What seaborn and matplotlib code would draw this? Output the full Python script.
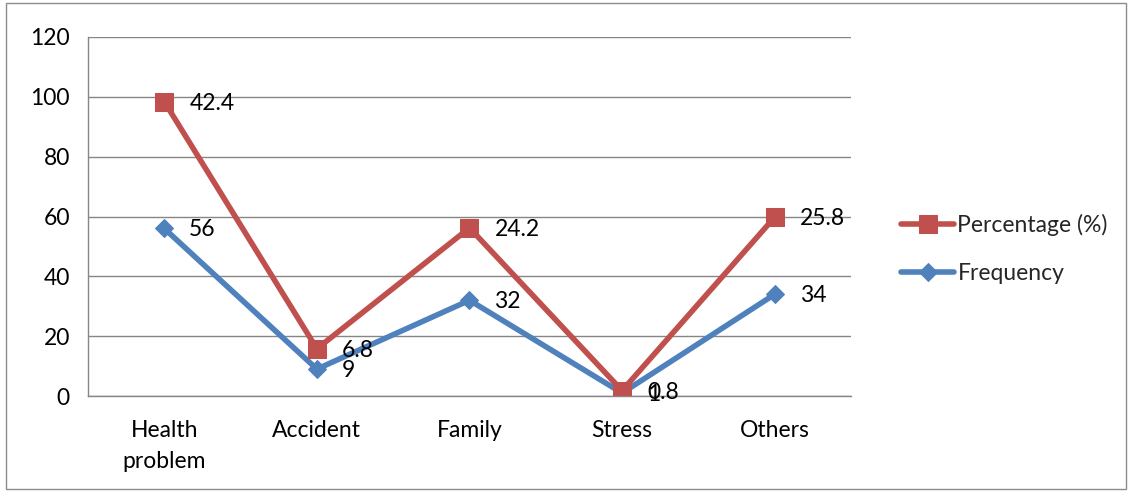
import numpy as np
import pandas as pd
import matplotlib
matplotlib.use('Agg')
import matplotlib.pyplot as plt
import seaborn as sns
from matplotlib.patches import Rectangle

categories = ['Health\nproblem', 'Accident', 'Family', 'Stress', 'Others']
frequency = [56, 9, 32, 1, 34]
percentage = [42.4, 6.8, 24.2, 0.8, 25.8]
yticks = [0, 20, 40, 60, 80, 100, 120]

blue = '#4F81BD'
red = '#C0504D'
grid_c = '#868686'
fs = 16.5

sns.set_theme(style='white')
plt.rcParams['font.family'] = ['Lato', 'DejaVu Sans']

df = pd.DataFrame({'pos': np.arange(len(categories)),
                   'Frequency': frequency,
                   'Percentage': percentage})
# Excel stacked line: percentage sits on top of frequency
df['stacked'] = df['Frequency'] + df['Percentage']

fig = plt.figure(figsize=(11.32, 4.92), dpi=100)
ax = fig.add_axes([0.0777, 0.1951, 0.6741, 0.7297])

sns.lineplot(data=df, x='pos', y='Frequency', ax=ax, color=blue, lw=4,
             marker='D', markersize=9, markeredgecolor=blue, label='Frequency')
sns.lineplot(data=df, x='pos', y='stacked', ax=ax, color=red, lw=4,
             marker='s', markersize=12.5, markeredgecolor=red, label='Percentage (%)')

for x, yv, v in zip(df['pos'], df['Frequency'], frequency):
    ax.annotate(f'{v:g}', (x, yv), xytext=(18, -1), textcoords='offset points',
                va='center', ha='left', fontsize=fs, color='black')
for x, yv, v in zip(df['pos'], df['stacked'], percentage):
    ax.annotate(f'{v:g}', (x, yv), xytext=(18, -1), textcoords='offset points',
                va='center', ha='left', fontsize=fs, color='black')

ax.set_xlim(-0.5, len(categories) - 0.5)
ax.set_ylim(0, 120)
ax.set_yticks(yticks)
ax.set_yticklabels([str(t) for t in yticks], fontsize=fs, color='black')
ax.set_xticks(np.arange(len(categories)))
ax.set_xticklabels(categories, fontsize=fs, color='black', linespacing=1.6)
ax.set_xticks(np.arange(len(categories) + 1) - 0.5, minor=True)
ax.tick_params(axis='x', which='major', length=0, pad=17)
ax.tick_params(axis='x', which='minor', length=6, color=grid_c, direction='out', width=1)
ax.tick_params(axis='y', length=5, color=grid_c, direction='out', width=1, pad=8)
ax.yaxis.grid(True, color=grid_c, lw=1)
ax.set_axisbelow(True)
ax.set_xlabel('')
ax.set_ylabel('')
for s in ['top', 'right']:
    ax.spines[s].set_visible(False)
for s in ['left', 'bottom']:
    ax.spines[s].set_color(grid_c)
    ax.spines[s].set_linewidth(1)

handles, labels = ax.get_legend_handles_labels()
ax.get_legend().remove()
fig.legend(handles[::-1], labels[::-1], loc='center left',
           bbox_to_anchor=(0.778, 0.494), frameon=False, fontsize=fs,
           handlelength=2.3, handletextpad=0.15, labelspacing=1.2)

fig.patches.append(Rectangle((0.005, 0.006), 0.99, 0.988, transform=fig.transFigure,
                             fill=False, edgecolor='#8c8c8c', lw=1))

fig.savefig('out.png', dpi=100, facecolor='white')
